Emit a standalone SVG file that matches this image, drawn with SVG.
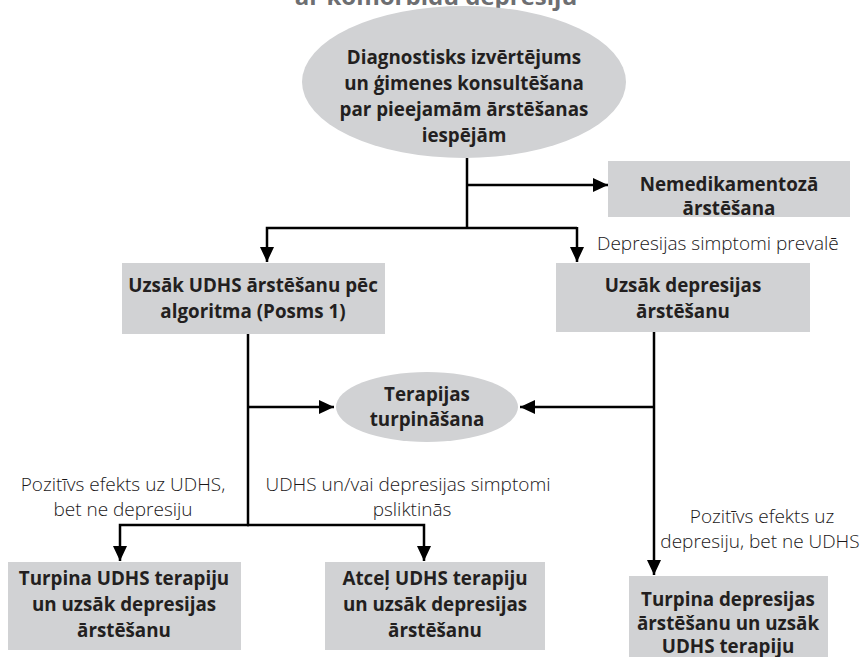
<svg xmlns="http://www.w3.org/2000/svg" width="863" height="657" viewBox="0 0 863 657">
  <style>
    .box { fill: #d1d2d4; }
    .oval { fill: #d1d2d4; }
    .t { font-family: "Open Sans", "Liberation Sans", sans-serif; font-weight: 700; font-size: 18.8px; fill: #231f20; text-anchor: middle; }
    .lbl { font-family: "Open Sans", "Liberation Sans", sans-serif; font-weight: 300; font-size: 19px; fill: #1a1718; text-anchor: middle; }
    .lbl.start { text-anchor: start; }
    .title { font-family: "Open Sans", "Liberation Sans", sans-serif; font-weight: 700; font-size: 24px; fill: #6d6e71; text-anchor: middle; }
    .ln { fill: none; stroke: #000; stroke-width: 2.5; }
  </style>
  <defs>
    <marker id="arr" markerUnits="userSpaceOnUse" markerWidth="16" markerHeight="14" refX="15" refY="7" orient="auto">
      <path d="M0,0 L15,7 L0,14 z" fill="#000"/>
    </marker>
  </defs>
  <rect width="863" height="657" fill="#fff"/>

  <!-- title tail, clipped by the top edge -->
  <text class="title" x="436" y="5">ar komorbīdu depresiju</text>

  <g id="diagnostika">
    <ellipse class="oval" cx="464" cy="82" rx="162" ry="76"/>
    <text class="t" x="464" y="64">Diagnostisks izvērtējums</text>
    <text class="t" x="464" y="90">un ģimenes konsultēšana</text>
    <text class="t" x="464" y="116">par pieejamām ārstēšanas</text>
    <text class="t" x="464" y="142">iespējām</text>
  </g>

  <g id="nemedikamentoza">
    <rect class="box" x="608" y="161" width="242" height="56"/>
    <text class="t" x="729" y="191">Nemedikamentozā</text>
    <text class="t" x="729" y="215">ārstēšana</text>
  </g>

  <g id="udhs-start">
    <rect class="box" x="122" y="263" width="263" height="71"/>
    <text class="t" x="253" y="292">Uzsāk UDHS ārstēšanu pēc</text>
    <text class="t" x="253" y="318">algoritma (Posms 1)</text>
  </g>

  <g id="depresija-start">
    <rect class="box" x="556" y="263" width="254" height="69"/>
    <text class="t" x="683" y="292">Uzsāk depresijas</text>
    <text class="t" x="683" y="318">ārstēšanu</text>
  </g>

  <g id="turpinasana">
    <ellipse class="oval" cx="427" cy="407" rx="91" ry="35"/>
    <text class="t" x="427" y="401">Terapijas</text>
    <text class="t" x="427" y="426">turpināšana</text>
  </g>

  <g id="turpina-udhs">
    <rect class="box" x="8" y="562" width="233" height="88"/>
    <text class="t" x="124" y="585">Turpina UDHS terapiju</text>
    <text class="t" x="124" y="611">un uzsāk depresijas</text>
    <text class="t" x="124" y="637">ārstēšanu</text>
  </g>

  <g id="atcel-udhs">
    <rect class="box" x="325" y="562" width="220" height="88"/>
    <text class="t" x="435" y="585">Atceļ UDHS terapiju</text>
    <text class="t" x="435" y="611">un uzsāk depresijas</text>
    <text class="t" x="435" y="637">ārstēšanu</text>
  </g>

  <g id="turpina-depresija">
    <rect class="box" x="629" y="576" width="199" height="90"/>
    <text class="t" x="728" y="606">Turpina depresijas</text>
    <text class="t" x="728" y="630">ārstēšanu un uzsāk</text>
    <text class="t" x="728" y="653">UDHS terapiju</text>
  </g>

  <g id="connectors">
    <path class="ln" d="M467,158 V228"/>
    <path class="ln" d="M467,185 H608" marker-end="url(#arr)"/>
    <path class="ln" d="M577,228 H267 V262" marker-end="url(#arr)"/>
    <path class="ln" d="M577,227 V262" marker-end="url(#arr)"/>
    <path class="ln" d="M248,334 V525"/>
    <path class="ln" d="M248,407 H334" marker-end="url(#arr)"/>
    <path class="ln" d="M654,332 V575" marker-end="url(#arr)"/>
    <path class="ln" d="M654,407 H520" marker-end="url(#arr)"/>
    <path class="ln" d="M249,525 H120 V561" marker-end="url(#arr)"/>
    <path class="ln" d="M247,525 H424 V561" marker-end="url(#arr)"/>
  </g>

  <g id="labels">
    <text class="lbl start" x="597" y="250">Depresijas simptomi prevalē</text>
    <text class="lbl" x="123" y="491">Pozitīvs efekts uz UDHS,</text>
    <text class="lbl" x="123" y="516">bet ne depresiju</text>
    <text class="lbl" x="408" y="491">UDHS un/vai depresijas simptomi</text>
    <text class="lbl" x="412" y="516">psliktinās</text>
    <text class="lbl" x="762" y="523">Pozitīvs efekts uz</text>
    <text class="lbl" x="760" y="548">depresiju, bet ne UDHS</text>
  </g>
</svg>
